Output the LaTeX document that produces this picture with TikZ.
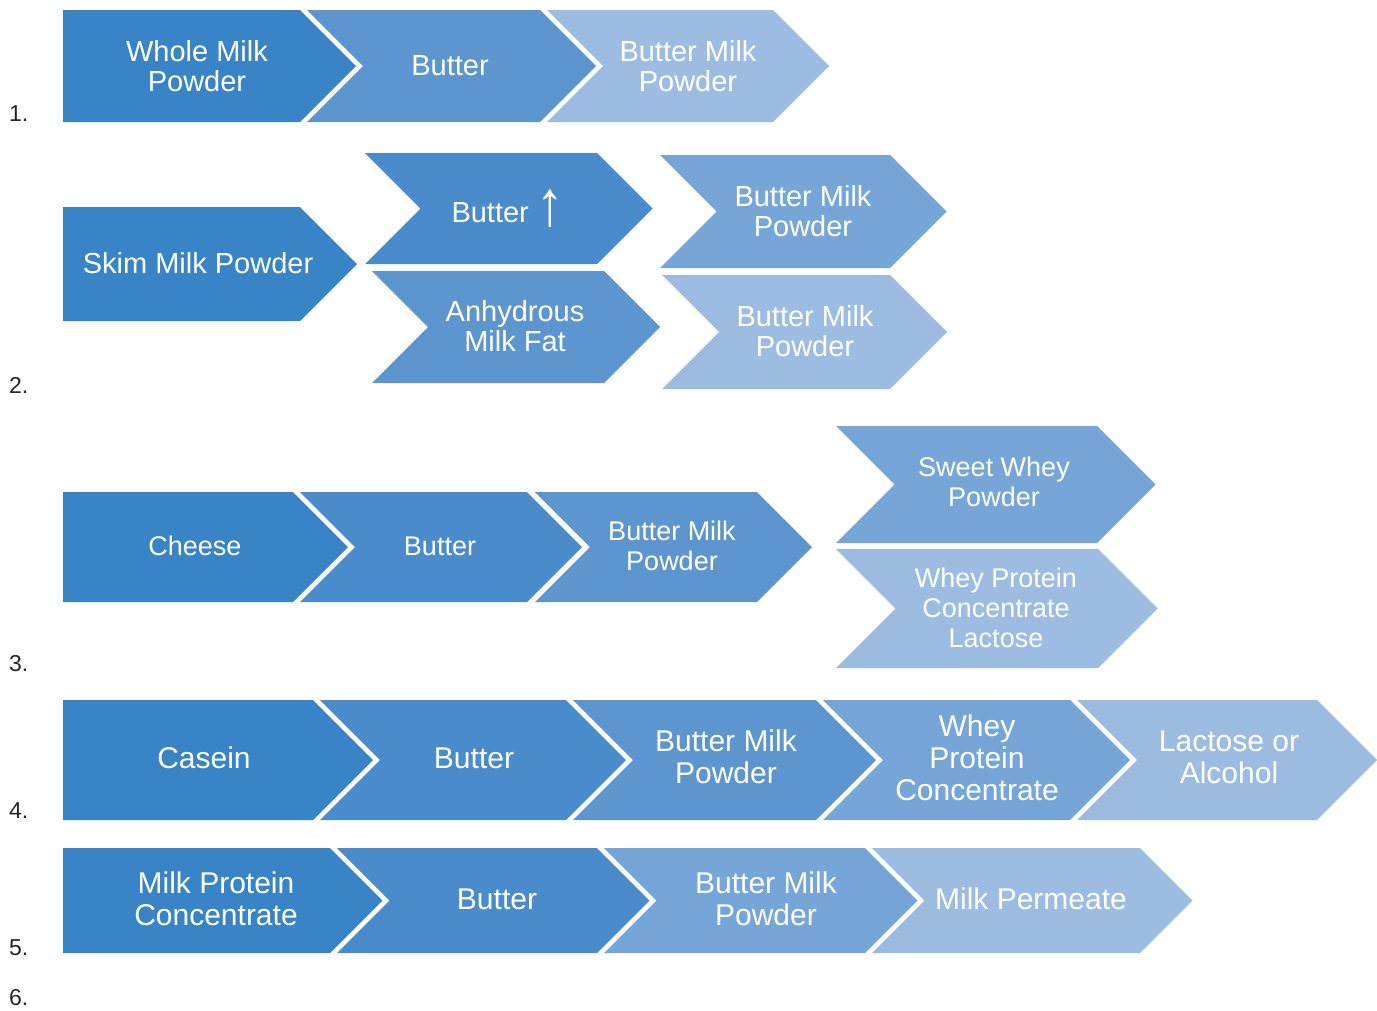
\documentclass[tikz,border=0pt]{standalone}
\usepackage{fontspec}
\setmainfont{Liberation Sans}
\definecolor{cA}{HTML}{3884C7}
\definecolor{cB}{HTML}{4A8BCB}
\definecolor{cC}{HTML}{5D96CF}
\definecolor{cD}{HTML}{75A6D7}
\definecolor{cE}{HTML}{9DBCE2}
\newcommand\chevfill[6]{% #1 colour #2 xl #3 xr #4 yt #5 yb #6 notch (0/1)
  \pgfmathsetmacro\ym{(#4+#5)/2}%
  \pgfmathsetmacro\dd{(#5-#4)/2}%
  \pgfmathsetmacro\nd{#6*\dd}%
  \fill[#1] (#2,#4) -- (#3,#4) -- ({#3+\dd},\ym) -- (#3,#5) -- (#2,#5) -- ({#2+\nd},\ym) -- cycle;%
}
\begin{document}
\begin{tikzpicture}[x=1pt,y=-1pt,
  lblA/.style={text=white,align=center,inner sep=0pt,font=\fontsize{29}{30}\selectfont},
  lblB/.style={text=white,align=center,inner sep=0pt,font=\fontsize{27}{30}\selectfont},
  lblC/.style={text=white,align=center,inner sep=0pt,font=\fontsize{30}{32}\selectfont},
  num/.style={text=black!85,inner sep=0pt,font=\fontsize{23}{25}\selectfont}]
\useasboundingbox[fill=white] (0,0) rectangle (1377,1010);
% Row 1
\chevfill{cA}{63}{300}{10}{122}{0}
\chevfill{cC}{307}{540}{10}{122}{1}
\chevfill{cE}{547}{773}{10}{122}{1}
\node[lblA] (r1a) at (197,66) {Whole Milk\\Powder};
\node[lblA] (r1b) at (450,66) {Butter};
\node[lblA] (r1c) at (688,66) {Butter Milk\\Powder};
% Row 2
\chevfill{cA}{63}{300}{207}{321}{0}
\chevfill{cB}{365}{597}{153}{264}{1}
\chevfill{cC}{372}{604}{271}{383}{1}
\chevfill{cD}{660}{890}{155}{268}{1}
\chevfill{cE}{662}{890}{275}{389}{1}
\node[lblA] (r2a) at (198,263) {Skim Milk Powder};
\node[lblA,anchor=base] (r2b) at (508,222) {Butter \raisebox{-3pt}{\scalebox{1.9}[2.2]{↑}}};
\node[lblA] (r2c) at (515,326) {Anhydrous\\Milk Fat};
\node[lblA] (r2d) at (803,211) {Butter Milk\\Powder};
\node[lblA] (r2e) at (805,331) {Butter Milk\\Powder};
% Row 3
\chevfill{cA}{63}{293}{492}{602}{0}
\chevfill{cB}{300}{527}{492}{602}{1}
\chevfill{cC}{535}{757}{492}{602}{1}
\chevfill{cD}{836}{1097}{426}{543}{1}
\chevfill{cE}{836}{1098}{549}{668}{1}
\node[lblB] (r3a) at (195,546) {Cheese};
\node[lblB] (r3b) at (440,546) {Butter};
\node[lblB] (r3c) at (672,546) {Butter Milk\\Powder};
\node[lblB] (r3d) at (994,482) {Sweet Whey\\Powder};
\node[lblB] (r3e) at (996,608) {Whey Protein\\Concentrate\\Lactose};
% Row 4
\chevfill{cA}{63}{313}{700}{820}{0}
\chevfill{cB}{320}{566}{700}{820}{1}
\chevfill{cC}{573}{816}{700}{820}{1}
\chevfill{cD}{823}{1070}{700}{820}{1}
\chevfill{cE}{1077}{1317}{700}{820}{1}
\node[lblC] (r4a) at (204,758) {Casein};
\node[lblC] (r4b) at (474,758) {Butter};
\node[lblC] (r4c) at (726,757) {Butter Milk\\Powder};
\node[lblC] (r4d) at (977,758) {Whey\\Protein\\Concentrate};
\node[lblC] (r4e) at (1229,757) {Lactose or\\Alcohol};
% Row 5
\chevfill{cA}{63}{330}{848}{953}{0}
\chevfill{cB}{337}{597}{848}{953}{1}
\chevfill{cD}{604}{865}{848}{953}{1}
\chevfill{cE}{872}{1140}{848}{953}{1}
\node[lblC] (r5a) at (216,899) {Milk Protein\\Concentrate};
\node[lblC] (r5b) at (497,899) {Butter};
\node[lblC] (r5c) at (766,899) {Butter Milk\\Powder};
\node[lblC] (r5d) at (1031,899) {Milk Permeate};
% Numbers
\node[num,anchor=base west] (n1) at (9,121) {1.};
\node[num,anchor=base west] (n2) at (9,393) {2.};
\node[num,anchor=base west] (n3) at (9,671) {3.};
\node[num,anchor=base west] (n4) at (9,818) {4.};
\node[num,anchor=base west] (n5) at (9,955) {5.};
\node[num,anchor=base west] (n6) at (9,1005) {6.};
\end{tikzpicture}
\end{document}
